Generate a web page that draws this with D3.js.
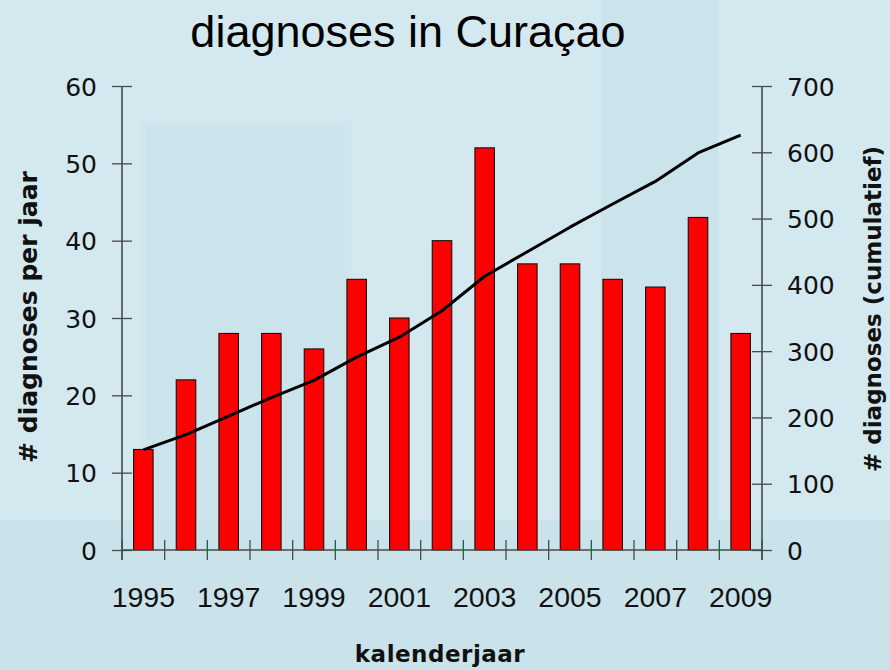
<!DOCTYPE html>
<html>
<head>
<meta charset="utf-8">
<script src="https://cdn.jsdelivr.net/npm/d3@7/dist/d3.min.js"></script>
<style>
  html, body { margin: 0; padding: 0; background: #d4e8ef; }
  svg { display: block; }
</style>
</head>
<body>
<svg id="chart" width="890" height="670"></svg>
<script>
// ---- data ----
const years = ["1995","1996","1997","1998","1999","2000","2001","2002","2003","2004","2005","2006","2007","2008","2009"];
const perYear = [13, 22, 28, 28, 26, 35, 30, 40, 52, 37, 37, 35, 34, 43, 28];
const cumulative = [151, 174, 202, 230, 256, 291, 321, 361, 413, 450, 487, 522, 556, 599, 626];
const yLeftTicks = [0, 10, 20, 30, 40, 50, 60];
const yRightTicks = [0, 100, 200, 300, 400, 500, 600, 700];
const xTickLabels = ["1995","1997","1999","2001","2003","2005","2007","2009"];
const titleText = "diagnoses in Curaçao";
const xTitle = "kalenderjaar";
const yLeftTitle = "# diagnoses per jaar";
const yRightTitle = "# diagnoses (cumulatief)";

// ---- layout ----
const W = 890, H = 670;
const mLeft = 122, mRight = 762, mTop = 86, mBottom = 550;

const svg = d3.select("#chart");

// background decoration
svg.append("rect").attr("x", 0).attr("y", 0).attr("width", W).attr("height", H).attr("fill", "#d4e8ef");
svg.append("rect").attr("x", 140).attr("y", 119).attr("width", 212).attr("height", 410).attr("fill", "#d0e6ec");
svg.append("rect").attr("x", 147).attr("y", 125).attr("width", 198).attr("height", 400).attr("fill", "#cbe3ea");
svg.append("rect").attr("x", 601).attr("y", 0).attr("width", 117).attr("height", 520).attr("fill", "#cbe3ea");
svg.append("rect").attr("x", 0).attr("y", 520).attr("width", W).attr("height", H - 520).attr("fill", "#cae3ea");

// scales
const x = d3.scaleBand().domain(years).range([mLeft, mRight]).padding(0);
const yL = d3.scaleLinear().domain([0, 60]).range([mBottom, mTop]);
const yR = d3.scaleLinear().domain([0, 700]).range([mBottom, mTop]);

const axisColor = "#4a4a4a";

// bars
const bw = x.bandwidth() * 0.457;
svg.append("g").selectAll("rect").data(years).join("rect")
  .attr("x", (d) => x(d) + (x.bandwidth() - bw) / 2)
  .attr("y", (d, i) => yL(perYear[i]))
  .attr("width", bw)
  .attr("height", (d, i) => mBottom - yL(perYear[i]))
  .attr("fill", "#ff0000")
  .attr("stroke", "#111")
  .attr("stroke-width", 1.1);

// cumulative line
const line = d3.line()
  .x((d, i) => x(years[i]) + x.bandwidth() / 2)
  .y((d) => yR(d));
svg.append("path").datum(cumulative)
  .attr("d", line)
  .attr("fill", "none")
  .attr("stroke", "#000")
  .attr("stroke-width", 3)
  .attr("stroke-linejoin", "round");

// left axis
const gL = svg.append("g").attr("transform", `translate(${mLeft},0)`)
  .call(d3.axisLeft(yL).tickValues(yLeftTicks).tickSize(10).tickSizeOuter(0).tickPadding(15));
gL.selectAll(".tick line").attr("x2", 10).attr("x1", -10);
gL.select(".domain").attr("d", `M0,${mTop}V${mBottom + 10}`);

// right axis
const gR = svg.append("g").attr("transform", `translate(${mRight},0)`)
  .call(d3.axisRight(yR).tickValues(yRightTicks).tickSize(10).tickSizeOuter(0).tickPadding(15));
gR.selectAll(".tick line").attr("x1", -10).attr("x2", 10);
gR.select(".domain").attr("d", `M0,${mTop}V${mBottom + 10}`);

[gL, gR].forEach(g => {
  g.selectAll(".tick line").attr("stroke", axisColor).attr("stroke-width", 1.3);
  g.select(".domain").attr("stroke", axisColor).attr("stroke-width", 1.6);
  g.selectAll(".tick text")
    .attr("font-family", "'DejaVu Sans', Verdana, sans-serif")
    .attr("font-size", 25)
    .attr("fill", "#111")
    .attr("dy", "0.36em");
});

// x axis baseline and boundary ticks
const boundaries = years.map(d => x(d)).concat([mRight]);
svg.append("line").attr("x1", mLeft).attr("x2", mRight).attr("y1", mBottom).attr("y2", mBottom)
  .attr("stroke", axisColor).attr("stroke-width", 1.6);
svg.append("g").selectAll("line").data(boundaries).join("line")
  .attr("x1", d => d).attr("x2", d => d)
  .attr("y1", mBottom - 10).attr("y2", mBottom + 10)
  .attr("stroke", axisColor).attr("stroke-width", 1.3);

// x tick labels
svg.append("g").selectAll("text").data(xTickLabels).join("text")
  .attr("x", d => x(d) + x.bandwidth() / 2)
  .attr("y", 607)
  .attr("text-anchor", "middle")
  .attr("font-family", "'Liberation Sans', Arial, sans-serif")
  .attr("font-size", 28.5)
  .attr("fill", "#111")
  .text(d => d);

// title
svg.append("text")
  .attr("x", 408).attr("y", 47)
  .attr("text-anchor", "middle")
  .attr("font-family", "'Liberation Sans', Arial, sans-serif")
  .attr("font-size", 45)
  .attr("fill", "#000")
  .text(titleText);

// axis titles
svg.append("text")
  .attr("x", 440).attr("y", 662)
  .attr("text-anchor", "middle")
  .attr("font-family", "'DejaVu Sans', Verdana, sans-serif")
  .attr("font-weight", "bold")
  .attr("font-size", 23)
  .attr("letter-spacing", 0.5)
  .attr("fill", "#111")
  .text(xTitle);

svg.append("text")
  .attr("transform", `translate(37,317) rotate(-90)`)
  .attr("text-anchor", "middle")
  .attr("font-family", "'DejaVu Sans', Verdana, sans-serif")
  .attr("font-weight", "bold")
  .attr("font-size", 25)
  .attr("fill", "#111")
  .text(yLeftTitle);

svg.append("text")
  .attr("transform", `translate(881,309) rotate(-90)`)
  .attr("text-anchor", "middle")
  .attr("font-family", "'DejaVu Sans', Verdana, sans-serif")
  .attr("font-weight", "bold")
  .attr("font-size", 23)
  .attr("fill", "#111")
  .text(yRightTitle);
</script>
</body>
</html>
